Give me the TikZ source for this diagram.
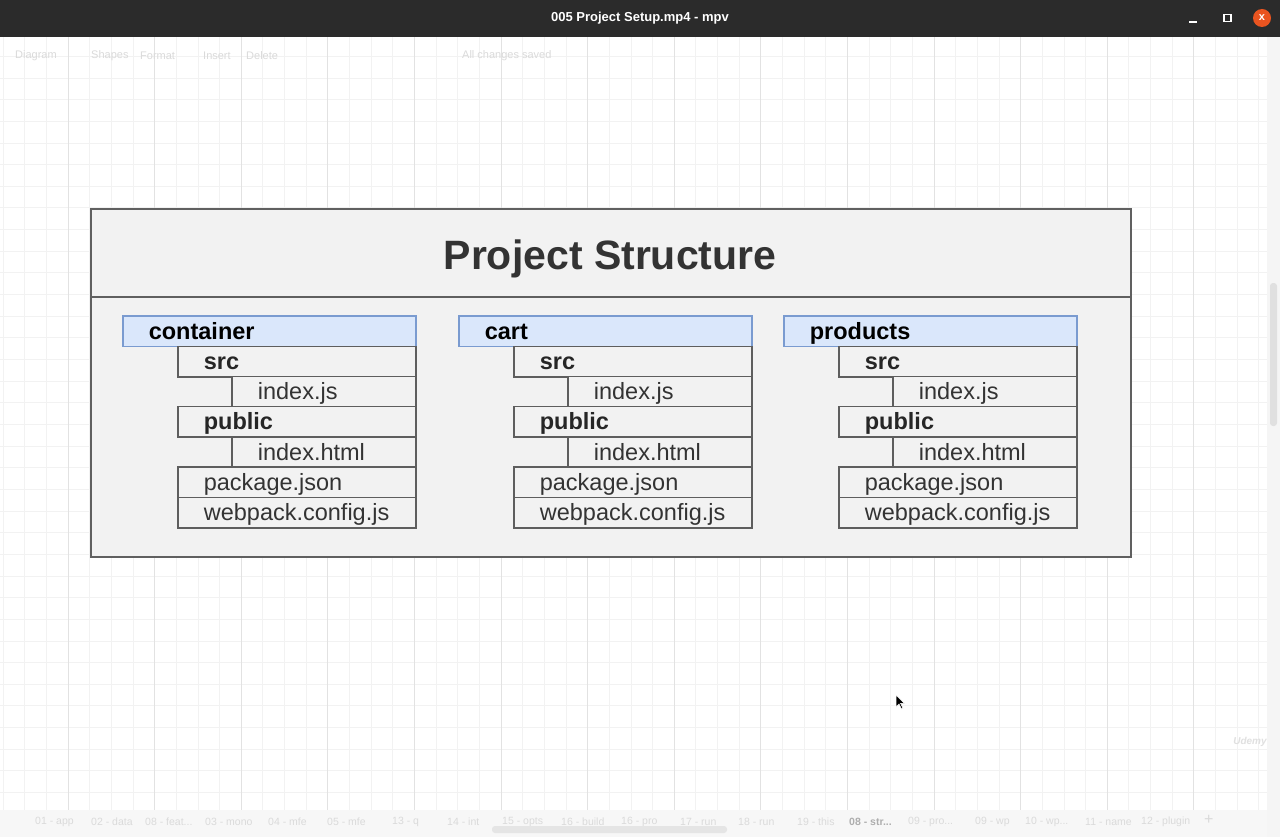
\documentclass[tikz,border=0pt]{standalone}
\usepackage{fontspec}
\setmainfont{Liberation Sans}
\definecolor{titlebar}{HTML}{2B2B2B}
\definecolor{gridminor}{HTML}{F2F2F2}
\definecolor{gridmajor}{HTML}{E2E2E2}
\definecolor{faint}{HTML}{DADADA}
\definecolor{boxfill}{HTML}{F2F2F2}
\definecolor{frameborder}{HTML}{606060}
\definecolor{rowborder}{HTML}{5E5E5E}
\definecolor{hdrfill}{HTML}{DAE7FB}
\definecolor{hdrborder}{HTML}{7A9BD0}
\definecolor{textgray}{HTML}{333333}
\definecolor{ubuorange}{HTML}{E95420}
\tikzset{
  frame/.style={draw=frameborder, line width=2pt, fill=boxfill},
  itemfont/.style={font=\fontsize{23.5}{25}\selectfont},
  header/.style={draw=hdrborder, fill=hdrfill, line width=1.6pt, anchor=north west,
    minimum height=30.5pt, inner xsep=26pt, inner ysep=0pt, align=left,
    text height=19pt, text depth=2.4pt, itemfont, font=\bfseries\fontsize{23.5}{25}\selectfont, text=black},
  row/.style={draw=rowborder, fill=boxfill, line width=1.7pt, anchor=north west,
    minimum height=30.5pt, inner xsep=26pt, inner ysep=0pt, align=left,
    text height=19pt, text depth=2.4pt, itemfont, text=textgray},
  dirrow/.style={row, font=\bfseries\fontsize{23.5}{25}\selectfont, text=black!85},
  ui/.style={text=faint, font=\fontsize{11}{12}\selectfont, anchor=west, inner sep=0pt},
  tab/.style={text=faint, font=\fontsize{10.5}{12}\selectfont, anchor=west, inner sep=0pt},
}
\newcommand{\projblock}[3]{%
  % #1 = x offset, #2 = name prefix, #3 = header text
  \node[header, text width=241pt] (#2hdr) at ({122+#1},315) {#3};
  \node[dirrow, text width=186pt] (#2src) at ({177+#1},345.5) {src};
  \node[row, text width=132pt] (#2srcidx) at ({231+#1},375.5) {index.js};
  \node[dirrow, text width=186pt] (#2pub) at ({177+#1},405.5) {public};
  \node[row, text width=132pt] (#2pubidx) at ({231+#1},436) {index.html};
  \node[row, text width=186pt] (#2pkg) at ({177+#1},466) {package.json};
  \node[row, text width=186pt] (#2wp) at ({177+#1},496.5) {webpack.config.js};
}
\begin{document}
\begin{tikzpicture}[x=1pt,y=-1pt]
\useasboundingbox (0,0) rectangle (1280,837);
\fill[white] (0,0) rectangle (1280,837);
% grid
\foreach \i in {0,...,58} {
  \draw[gridminor, line width=0.8pt] ({3.05+21.65*\i},37) -- ({3.05+21.65*\i},837);
}
\foreach \j in {0,...,36} {
  \draw[gridminor, line width=0.8pt] (0,{56.35+21.65*\j}) -- (1268,{56.35+21.65*\j});
}
\foreach \i in {0,...,13} {
  \draw[gridmajor, line width=0.9pt] ({68+86.6*\i},37) -- ({68+86.6*\i},837);
}
% right scrollbar
\fill[white!96!black] (1267,37) rectangle (1280,837);
\fill[white!88!black, rounded corners=3pt] (1270,283) rectangle (1277,426);
% faded toolbar
\node[ui] (tb1) at (15,56) {Diagram};
\node[ui] (tb2) at (91,56) {Shapes};
\node[ui] (tb3) at (140,56) {Format};
\node[ui] (tb4) at (203,56) {Insert};
\node[ui] (tb5) at (246,56) {Delete};
\node[ui] (tb6) at (462,56) {All changes saved};
% bottom tab bar
\fill[white!97!black] (0,810) rectangle (1267,837);
\node[tab] (t1) at (35,822) {01 - app};
\node[tab] (t2) at (91,822) {02 - data};
\node[tab] (t3) at (145,822) {08 - feat...};
\node[tab] (t4) at (205,822) {03 - mono};
\node[tab] (t5) at (268,822) {04 - mfe};
\node[tab] (t6) at (327,822) {05 - mfe};
\node[tab] (t7) at (392,822) {13 - q};
\node[tab] (t8) at (447,822) {14 - int};
\node[tab] (t9) at (502,822) {15 - opts};
\node[tab] (t10) at (561,822) {16 - build};
\node[tab] (t11) at (621,822) {16 - pro};
\node[tab] (t12) at (680,822) {17 - run};
\node[tab] (t13) at (738,822) {18 - run};
\node[tab] (t14) at (797,822) {19 - this};
\node[tab, text=faint!80!black, font=\bfseries\fontsize{10.5}{12}\selectfont] (t15) at (849,822) {08 - str...};
\node[tab] (t16) at (908,822) {09 - pro...};
\node[tab] (t17) at (975,822) {09 - wp};
\node[tab] (t18) at (1025,822) {10 - wp...};
\node[tab] (t19) at (1085,822) {11 - name};
\node[tab] (t20) at (1141,822) {12 - plugin};
\node[tab, font=\fontsize{16}{16}\selectfont] (t21) at (1204,820) {+};
\fill[white!90!black, rounded corners=3pt] (492,826) rectangle (727,833);
% watermark
\node[text=white!88!black, font=\bfseries\itshape\fontsize{10}{10}\selectfont] (udemy) at (1250,742) {Udemy};
% title bar
\fill[titlebar] (0,0) rectangle (1280,37);
\node[text=white, font=\bfseries\fontsize{13}{14}\selectfont] (wtitle) at (640,18.5) {005 Project Setup.mp4 - mpv};
\draw[white, line width=1.6pt] (1189,22) -- (1197,22);
\draw[white, line width=1.6pt] (1224,14.5) rectangle (1231,21.5);
\node[circle, fill=ubuorange, minimum size=18pt, inner sep=0pt, text=white, font=\bfseries\fontsize{11}{11}\selectfont] (closebtn) at (1262,18) {x};
% main diagram frame
\node[frame, anchor=north west, minimum width=1040pt, minimum height=87pt, inner sep=0pt] (titlebox) at (90,208.5) {};
\node[frame, anchor=north west, minimum width=1040pt, minimum height=260pt, inner sep=0pt] (bodybox) at (90,295.5) {};
\node[text=textgray, font=\bfseries\fontsize{41}{44}\selectfont] (title) at (610,258.5) {Project Structure};
\projblock{0}{c}{container}
\projblock{336}{k}{cart}
\projblock{661}{p}{products}
% cursor
\filldraw[fill=black, draw=white, line width=0.6pt] (896,695) -- (896,707) -- (899,704) -- (901.5,709) -- (903,708.3) -- (900.6,703.4) -- (904.5,703.4) -- cycle;
\end{tikzpicture}
\end{document}
